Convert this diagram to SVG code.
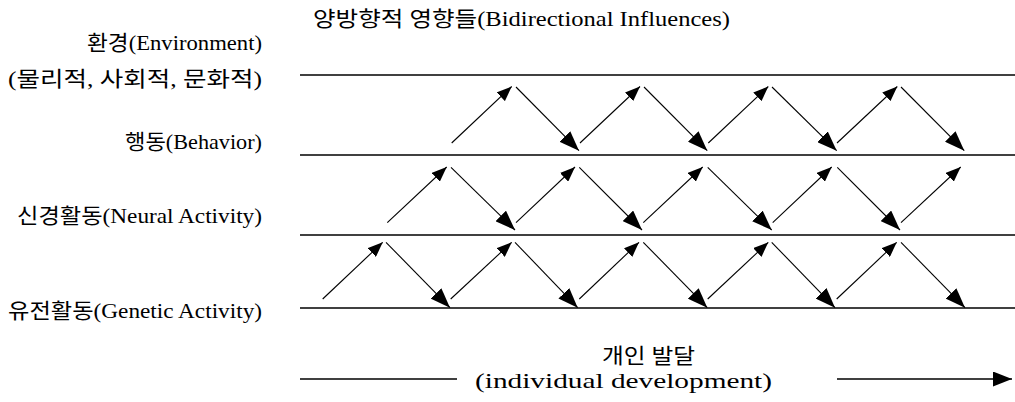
<svg xmlns="http://www.w3.org/2000/svg" width="1015" height="402" viewBox="0 0 1015 402">
<style>
text{font-family:'Liberation Serif','Noto Sans CJK KR',serif;font-size:21px;fill:#000}
.lay{stroke:#000;stroke-width:1.3;fill:none}
.up{stroke:#000;stroke-width:1.1;fill:none;marker-end:url(#hu)}
.dn{stroke:#000;stroke-width:1.1;fill:none;marker-end:url(#hd)}
</style>
<defs>
<marker id="hu" markerUnits="userSpaceOnUse" viewBox="0 0 15 12" refX="15" refY="6" markerWidth="15" markerHeight="12" orient="auto"><path d="M0,0 L15,6 L0,12 z" fill="#000"/></marker>
<marker id="hd" markerUnits="userSpaceOnUse" viewBox="0 0 20 15" refX="20" refY="7.5" markerWidth="20" markerHeight="15" orient="auto"><path d="M0,0 L20,7.5 L0,15 z" fill="#000"/></marker>
<marker id="ha" markerUnits="userSpaceOnUse" viewBox="0 0 19 15" refX="19" refY="7.5" markerWidth="19" markerHeight="15" orient="auto"><path d="M0,0 L19,7.5 L0,15 z" fill="#000"/></marker>
</defs>
<rect width="1015" height="402" fill="#fff"/>
<g id="title"><text x="313" y="26" textLength="417" lengthAdjust="spacingAndGlyphs">양방향적 영향들(Bidirectional  Influences)</text></g>
<g id="environment"><text x="262" y="50" text-anchor="end" textLength="175" lengthAdjust="spacingAndGlyphs">환경(Environment)</text><text x="262" y="86" text-anchor="end" textLength="254" lengthAdjust="spacingAndGlyphs">(물리적, 사회적, 문화적)</text></g>
<g id="behavior"><text x="262" y="149" text-anchor="end" textLength="137" lengthAdjust="spacingAndGlyphs">행동(Behavior)</text></g>
<g id="neural"><text x="262" y="223" text-anchor="end" textLength="245" lengthAdjust="spacingAndGlyphs">신경활동(Neural  Activity)</text></g>
<g id="genetic"><text x="262" y="318" text-anchor="end" textLength="254" lengthAdjust="spacingAndGlyphs">유전활동(Genetic  Activity)</text></g>
<g id="development"><text x="602" y="363" textLength="93" lengthAdjust="spacingAndGlyphs">개인 발달</text><text x="475" y="388" textLength="297" lengthAdjust="spacingAndGlyphs">(individual  development)</text></g>
<g id="connectors">
<line class="lay" x1="300" y1="75" x2="1015" y2="75"/>
<line class="lay" x1="300" y1="155" x2="1015" y2="155"/>
<line class="lay" x1="300" y1="235" x2="1015" y2="235"/>
<line class="lay" x1="300" y1="308" x2="1015" y2="308"/>
<line class="lay" x1="300" y1="379" x2="457" y2="379"/>
<line x1="837" y1="379" x2="1012" y2="379" stroke="#000" stroke-width="1.5" marker-end="url(#ha)"/>
<line class="up" x1="451.7" y1="143" x2="511.7" y2="86.5"/>
<line class="dn" x1="516" y1="87" x2="579" y2="150.7"/>
<line class="up" x1="580" y1="143" x2="640" y2="86.5"/>
<line class="dn" x1="644" y1="87" x2="707.3" y2="150.7"/>
<line class="up" x1="708.3" y1="143" x2="768.3" y2="86.5"/>
<line class="dn" x1="772" y1="87" x2="836.7" y2="150.7"/>
<line class="up" x1="837" y1="143" x2="897.3" y2="86.5"/>
<line class="dn" x1="901" y1="87" x2="964.3" y2="150.7"/>
<line class="up" x1="387.3" y1="222.7" x2="446.7" y2="167"/>
<line class="dn" x1="451" y1="167.3" x2="515" y2="230"/>
<line class="up" x1="516" y1="222.7" x2="575" y2="167"/>
<line class="dn" x1="579.3" y1="167.3" x2="642" y2="230"/>
<line class="up" x1="643.3" y1="222.7" x2="702.7" y2="167"/>
<line class="dn" x1="707.7" y1="167.3" x2="771.7" y2="230"/>
<line class="up" x1="772.7" y1="222.7" x2="831.7" y2="167"/>
<line class="dn" x1="837.3" y1="167.3" x2="900" y2="230"/>
<line class="up" x1="901" y1="222.7" x2="960.7" y2="167"/>
<line class="up" x1="322.7" y1="299" x2="382.7" y2="242.3"/>
<line class="dn" x1="386" y1="242.3" x2="450" y2="307.7"/>
<line class="up" x1="450.7" y1="299" x2="511.7" y2="242.3"/>
<line class="dn" x1="515" y1="242.3" x2="577.7" y2="307.7"/>
<line class="up" x1="579.3" y1="299" x2="639" y2="242.3"/>
<line class="dn" x1="643.3" y1="242.3" x2="707.3" y2="307.7"/>
<line class="up" x1="707.7" y1="299" x2="768.3" y2="242.3"/>
<line class="dn" x1="771.7" y1="242.3" x2="835" y2="307.7"/>
<line class="up" x1="836.7" y1="299" x2="896.7" y2="242.3"/>
<line class="dn" x1="901" y1="242.3" x2="965" y2="307.7"/>
</g>
</svg>
